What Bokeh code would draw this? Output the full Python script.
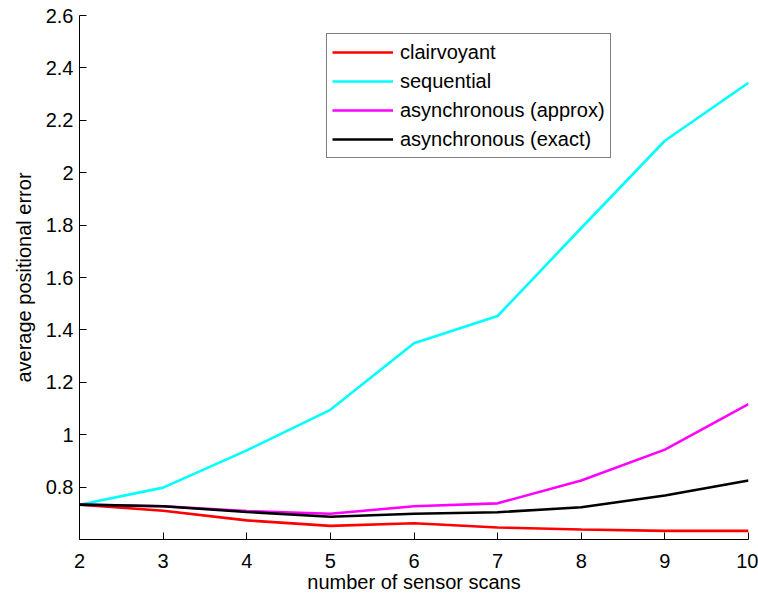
from bokeh.plotting import figure
from bokeh.models import FixedTicker, Range1d, Legend, LegendItem
from bokeh.embed import file_html
from bokeh.resources import INLINE

# ---- data ----
scans = [2, 3, 4, 5, 6, 7, 8, 9, 10]
clairvoyant = [0.733, 0.710, 0.673, 0.652, 0.662, 0.646, 0.638, 0.633, 0.633]
sequential = [0.733, 0.798, 0.940, 1.095, 1.349, 1.453, 1.789, 2.122, 2.343]
async_approx = [0.733, 0.727, 0.709, 0.698, 0.727, 0.738, 0.825, 0.943, 1.117]
async_exact = [0.733, 0.727, 0.705, 0.687, 0.698, 0.704, 0.723, 0.768, 0.825]

series_names = ["clairvoyant", "sequential", "asynchronous (approx)", "asynchronous (exact)"]
series_colors = ["#ff0000", "#00ffff", "#ff00ff", "#000000"]

x_ticks = [2, 3, 4, 5, 6, 7, 8, 9, 10]
y_ticks = [0.8, 1.0, 1.2, 1.4, 1.6, 1.8, 2.0, 2.2, 2.4, 2.6]
y_tick_labels = ["0.8", "1", "1.2", "1.4", "1.6", "1.8", "2", "2.2", "2.4", "2.6"]

FONT = "Liberation Sans"

p = figure(width=758, height=595, output_backend="svg", toolbar_location=None,
           x_range=Range1d(2, 10), y_range=Range1d(0.6, 2.6),
           min_border_left=79, min_border_top=15, min_border_right=10, min_border_bottom=54)
p.outline_line_color = None
p.xgrid.visible = False
p.ygrid.visible = False
p.background_fill_color = "white"
p.border_fill_color = "white"

renderers = []
for ys, name, col in zip([clairvoyant, sequential, async_approx, async_exact], series_names, series_colors):
    r = p.line(scans, ys, line_color=col, line_width=2.6)
    renderers.append((name, r))

# axes
for ax in (p.xaxis[0], p.yaxis[0]):
    ax.axis_line_color = "black"
    ax.axis_line_width = 1
    ax.major_tick_in = 7
    ax.major_tick_out = 0
    ax.minor_tick_line_color = None
    ax.major_tick_line_color = "black"
    ax.major_label_text_font = FONT
    ax.major_label_text_font_size = "20px"
    ax.major_label_text_color = "black"
    ax.axis_label_text_font = FONT
    ax.axis_label_text_font_size = "20px"
    ax.axis_label_text_font_style = "normal"
    ax.axis_label_text_color = "black"

p.xaxis.ticker = FixedTicker(ticks=x_ticks)
p.yaxis.ticker = FixedTicker(ticks=y_ticks)
p.yaxis.major_label_overrides = {t: l for t, l in zip(y_ticks, y_tick_labels)}
p.xaxis.axis_label = "number of sensor scans"
p.yaxis.axis_label = "average positional error"
p.xaxis.major_label_standoff = 14
p.xaxis.axis_label_standoff = 0
p.yaxis.major_label_standoff = 6
p.yaxis.axis_label_standoff = 8

legend = Legend(items=[LegendItem(label=n, renderers=[r]) for n, r in renderers],
                location=(247, 381), orientation="vertical")
legend.border_line_color = "black"
legend.border_line_width = 1
legend.background_fill_color = "white"
legend.background_fill_alpha = 1
legend.padding = 5
legend.margin = 0
legend.spacing = 3
legend.glyph_width = 61
legend.glyph_height = 26
legend.label_height = 26
legend.label_standoff = 7
legend.label_text_font = FONT
legend.label_text_font_size = "20px"
legend.label_text_color = "black"
legend.label_text_baseline = "middle"
p.add_layout(legend, "center")

open("out.html", "w").write(file_html(p, INLINE))
